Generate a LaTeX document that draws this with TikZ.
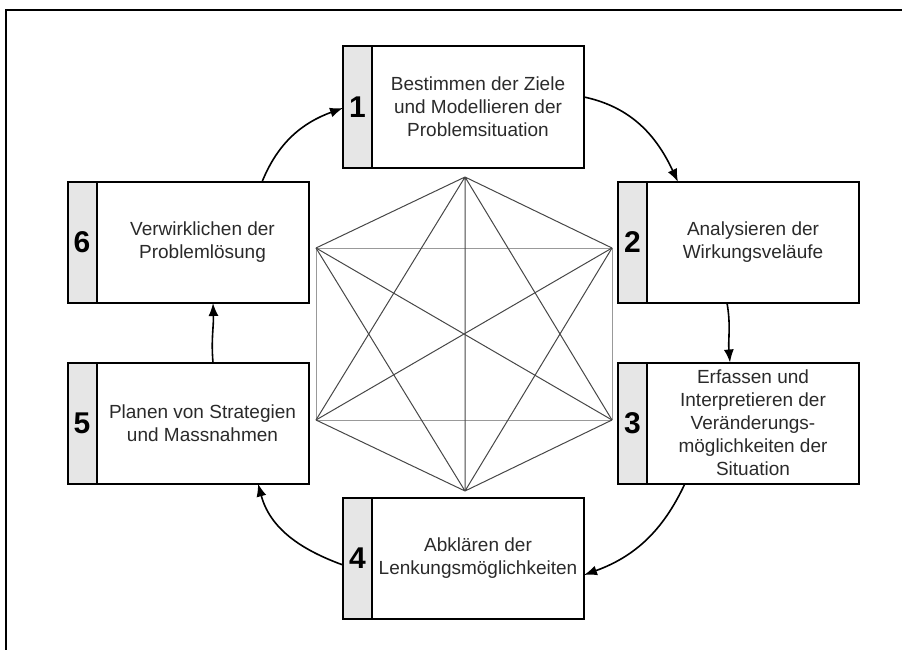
\documentclass[tikz,border=0pt]{standalone}
\usepackage{fontspec}
\setmainfont{Liberation Sans}
\usetikzlibrary{arrows.meta,calc}

\definecolor{stripgray}{HTML}{E6E6E6}
\definecolor{inkgray}{HTML}{2A2A2A}

\tikzset{
  procframe/.style={draw=black, line width=2pt, minimum width=241pt, minimum height=121pt,
    inner sep=0pt, outer sep=0pt},
  procnum/.style={font=\fontsize{30}{32}\selectfont\bfseries, text=black, inner sep=0pt},
  proctext/.style={font=\fontsize{19}{23}\selectfont, text=inkgray, align=center, inner sep=0pt},
  cycle arrow/.style={line width=1.6pt, -{Latex[length=13pt,width=10pt]}},
  hexedge/.style={draw=black!72, line width=1pt},
  hexside/.style={draw=black!40, line width=1pt},
}

% one process step: name, centre, number, description
\newcommand{\procbox}[5]{%
  \node[procframe] (#1) at (#2,#3) {};
  \fill[stripgray] (#1.north west) rectangle ([xshift=29pt]#1.south west);
  \draw[line width=2pt] ([xshift=29pt]#1.north west) -- ([xshift=29pt]#1.south west);
  \draw[line width=2pt] (#1.north west) rectangle (#1.south east);
  \node[procnum] (#1num) at ([xshift=14.5pt]#1.west) {#4};
  \node[proctext] (#1txt) at ([xshift=14.5pt]#1.center) {#5};
}

\begin{document}
\begin{tikzpicture}[x=1pt, y=-1pt]
  \useasboundingbox (0,0) rectangle (902,650);

  % outer frame (open to the right and bottom)
  \draw[line width=2pt] (6,650) -- (6,10) -- (902,10);

  % hexagon with all of its diagonals
  \coordinate (ht) at (465,177);
  \coordinate (hul) at (316,248);
  \coordinate (hur) at (612,248);
  \coordinate (hll) at (316,420);
  \coordinate (hlr) at (612,420);
  \coordinate (hb) at (465,491);
  \draw[hexside] (hul) -- (hur);
  \draw[hexside] (hll) -- (hlr);
  \draw[hexside] (hul) -- (hll);
  \draw[hexside] (hur) -- (hlr);
  \draw[hexedge] (ht) -- (hul) (ht) -- (hur) (ht) -- (hll) (ht) -- (hlr) (ht) -- (hb);
  \draw[hexedge] (hb) -- (hll) (hb) -- (hlr) (hb) -- (hul) (hb) -- (hur);
  \draw[hexedge] (hul) -- (hlr) (hur) -- (hll);

  % the six steps
  \procbox{b1}{463.5}{107}{1}{Bestimmen der Ziele\\und Modellieren der\\Problemsituation}
  \procbox{b2}{738.5}{242.5}{2}{Analysieren der\\Wirkungsveläufe}
  \procbox{b3}{738.5}{423}{3}{Erfassen und\\Interpretieren der\\Veränderungs-\\möglichkeiten der\\Situation}
  \procbox{b4}{463.5}{558.5}{4}{Abklären der\\Lenkungsmöglichkeiten}
  \procbox{b5}{188}{423}{5}{Planen von Strategien\\und Massnahmen}
  \procbox{b6}{188}{242.5}{6}{Verwirklichen der\\Problemlösung}

  % cycle connectors
  \draw[cycle arrow] ([yshift=10pt]b1.east) to[out=-12, in=115] ([xshift=-60.5pt]b2.north);
  \draw[cycle arrow] ([xshift=-11.5pt]b2.south) to[out=-80, in=95] ([xshift=-8.5pt]b3.north);
  \draw[cycle arrow] ([xshift=-53.5pt]b3.south) to[out=-115, in=20] ([yshift=-16.5pt]b4.east);
  \draw[cycle arrow] ([yshift=-6.5pt]b4.west) to[out=160, in=-75] ([xshift=70pt]b5.south);
  \draw[cycle arrow] ([xshift=25pt]b5.north) to[out=95, in=-88] ([xshift=25pt]b6.south);
  \draw[cycle arrow] ([xshift=74pt]b6.north) to[out=68, in=200] ([yshift=-1pt]b1.west);
\end{tikzpicture}
\end{document}
